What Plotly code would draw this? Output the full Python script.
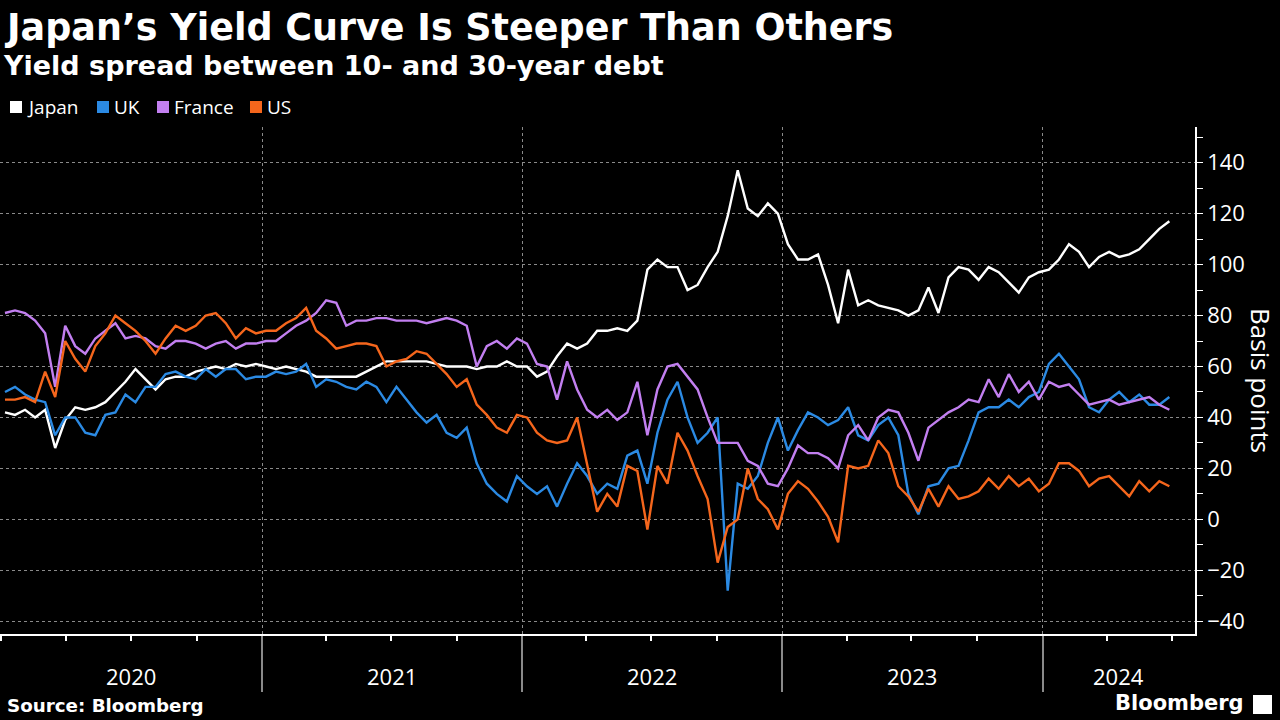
import pandas as pd
import plotly.graph_objects as go

# ---- data (roughly bi-weekly samples) ----
dates = pd.date_range("2020-01-06", "2024-06-27", periods=117)

japan = [42, 41, 43, 40, 43, 28, 39, 44, 43, 44,
         46, 50, 54, 59, 55, 51, 55, 56, 56, 58,
         59, 60, 59, 61, 60, 61, 60, 59, 60, 59,
         58, 56, 56, 56, 56, 56, 58, 60, 62, 62,
         62, 62, 62, 61, 60, 60, 60, 59, 60, 60,
         62, 60, 60, 56, 58, 64, 69, 67, 69, 74,
         74, 75, 74, 78, 98, 102, 99, 99, 90, 92,
         99, 105, 119, 137, 122, 119, 124, 120, 108, 102,
         102, 104, 92, 77, 98, 84, 86, 84, 83, 82,
         80, 82, 91, 81, 95, 99, 98, 94, 99, 97,
         93, 89, 95, 97, 98, 102, 108, 105, 99, 103,
         105, 103, 104, 106, 110, 114, 117]

uk = [50, 52, 49, 47, 46, 33, 40, 40, 34, 33,
      41, 42, 49, 46, 52, 52, 57, 58, 56, 55,
      59, 56, 59, 59, 55, 56, 56, 58, 57, 58,
      61, 52, 55, 54, 52, 51, 54, 52, 46, 52,
      47, 42, 38, 41, 34, 32, 36, 22, 14, 10,
      7, 17, 13, 10, 13, 5, 14, 22, 17, 10,
      14, 12, 25, 27, 14, 34, 47, 54, 40, 30,
      34, 40, -28, 14, 12, 17, 30, 40, 27, 35,
      42, 40, 37, 39, 44, 33, 31, 37, 40, 33,
      10, 2, 13, 14, 20, 21, 31, 42, 44, 44,
      47, 44, 48, 50, 61, 65, 60, 55, 44, 42,
      47, 50, 46, 49, 45, 45, 48]

france = [81, 82, 81, 78, 73, 52, 76, 68, 65, 71,
          74, 77, 71, 72, 71, 68, 67, 70, 70, 69,
          67, 69, 70, 67, 69, 69, 70, 70, 73, 76,
          78, 81, 86, 85, 76, 78, 78, 79, 79, 78,
          78, 78, 77, 78, 79, 78, 76, 60, 68, 70,
          67, 71, 69, 61, 60, 47, 62, 51, 43, 40,
          43, 39, 42, 54, 33, 51, 60, 61, 56, 51,
          40, 30, 30, 30, 23, 21, 14, 13, 20, 29,
          26, 26, 24, 20, 33, 37, 31, 40, 43, 42,
          34, 23, 36, 39, 42, 44, 47, 46, 55, 48,
          57, 50, 54, 47, 54, 52, 53, 49, 45, 46,
          47, 45, 46, 47, 48, 45, 43]

us = [47, 47, 48, 46, 58, 48, 70, 63, 58, 68,
      73, 80, 77, 74, 70, 65, 71, 76, 74, 76,
      80, 81, 77, 71, 75, 73, 74, 74, 77, 79,
      83, 74, 71, 67, 68, 69, 69, 68, 60, 62,
      63, 66, 65, 61, 57, 52, 55, 45, 41, 36,
      34, 41, 40, 34, 31, 30, 31, 40, 21, 3,
      10, 5, 21, 19, -4, 21, 14, 34, 27, 17,
      8, -17, -3, 0, 20, 8, 4, -4, 10, 15,
      12, 7, 1, -9, 21, 20, 21, 31, 26, 13,
      9, 3, 12, 5, 13, 8, 9, 11, 16, 12,
      17, 13, 16, 11, 14, 22, 22, 19, 13, 16,
      17, 13, 9, 15, 11, 15, 13]

series_names = ["Japan", "UK", "France", "US"]
series_values = [japan, uk, france, us]
series_colors = ["#ffffff", "#2b8ae3", "#c27ff0", "#f5661c"]

year_bounds = ["2021-01-01", "2022-01-01", "2023-01-01", "2024-01-01"]
year_label_pos = ["2020-07-01", "2021-07-02", "2022-07-02", "2023-07-02", "2024-04-17"]
year_labels = ["2020", "2021", "2022", "2023", "2024"]

# ---- figure ----
W, H = 1280, 720
ML, MR, MT, MB = 0, 85, 127, 86
PW, PH = W - ML - MR, H - MT - MB


def px(x):
    return (x - ML) / PW


def py(y):
    return (H - MB - y) / PH


fig = go.Figure()
for name, vals, col in zip(series_names, series_values, series_colors):
    fig.add_trace(go.Scatter(x=dates, y=vals, mode="lines", name=name,
                             line=dict(color=col, width=2.4),
                             showlegend=False))

BOLD = "DejaVu Sans"
FONT = "Open Sans"
grid = "#8a8a8a"

annotations = []
shapes = []

# legend (squares + labels)
leg_sq = [10, 97, 157, 250]
for name, col, x0 in zip(series_names, series_colors, leg_sq):
    shapes.append(dict(type="rect", xref="paper", yref="paper",
                       x0=px(x0), x1=px(x0 + 12), y0=py(113), y1=py(101),
                       fillcolor=col, line=dict(width=0)))
    annotations.append(dict(text=name, xref="paper", yref="paper",
                            x=px(x0 + 15), y=py(107), xanchor="left", yanchor="middle",
                            showarrow=False, font=dict(family=FONT, size=19, color="white")))

# year labels
for pos, lab in zip(year_label_pos, year_labels):
    annotations.append(dict(text=lab, xref="x", yref="paper", x=pos, y=py(676),
                            xanchor="center", yanchor="middle", showarrow=False,
                            font=dict(family=FONT, size=22, color="white")))

# y-axis title
annotations.append(dict(text="Basis points", xref="paper", yref="paper",
                        x=px(1261), y=py(380), textangle=90, showarrow=False,
                        xanchor="center", yanchor="middle",
                        font=dict(family=FONT, size=26, color="white")))

# subtitle
annotations.append(dict(text="<b>Yield spread between 10- and 30-year debt</b>",
                        xref="paper", yref="paper", x=px(1), y=py(65),
                        xanchor="left", yanchor="middle", showarrow=False,
                        font=dict(family=BOLD, size=27, color="white")))

# source + brand
annotations.append(dict(text="<b>Source: Bloomberg</b>", xref="paper", yref="paper",
                        x=px(5), y=py(705), xanchor="left", yanchor="middle",
                        showarrow=False, font=dict(family=BOLD, size=18.3, color="white")))
annotations.append(dict(text="<b>Bloomberg</b>", xref="paper", yref="paper",
                        x=px(1246), y=py(703), xanchor="right", yanchor="middle",
                        showarrow=False, font=dict(family=BOLD, size=21, color="white")))
shapes.append(dict(type="rect", xref="paper", yref="paper",
                   x0=px(1253), x1=px(1272), y0=py(714), y1=py(695),
                   fillcolor="white", line=dict(width=0)))

# title
annotations.append(dict(text="<b>Japan’s Yield Curve Is Steeper Than Others</b>",
                        xref="paper", yref="paper", x=px(2), y=py(27),
                        xanchor="left", yanchor="middle", showarrow=False,
                        font=dict(family=BOLD, size=36.5, color="white")))

fig.update_layout(
    width=W, height=H,
    margin=dict(l=ML, r=MR, t=MT, b=MB),
    paper_bgcolor="black", plot_bgcolor="black",
    showlegend=False,
    annotations=annotations,
    shapes=shapes,
    xaxis=dict(type="date", range=["2019-12-30", "2024-08-02"],
               showline=True, linecolor="white", linewidth=1.5,
               tickmode="array", tickvals=year_bounds, showticklabels=False,
               ticks="outside", ticklen=56, tickcolor=grid, tickwidth=1.5,
               showgrid=True, gridcolor=grid, griddash="dot", gridwidth=1,
               zeroline=False,
               minor=dict(ticks="outside", ticklen=5, tickcolor="white",
                          dtick="M3", tick0="2020-01-01", showgrid=False)),
    yaxis=dict(side="right", range=[-45, 154], tick0=0, dtick=20,
               showline=True, linecolor="white", linewidth=1.5,
               ticks="outside", ticklen=6, tickcolor="white",
               tickfont=dict(family=FONT, size=22, color="white"),
               showgrid=True, gridcolor=grid, griddash="dot", gridwidth=1,
               zeroline=False,
               minor=dict(ticks="outside", ticklen=6, tickcolor="white",
                          dtick=10, showgrid=False)),
)

fig.write_html("out.html", config={"displayModeBar": False},
               post_script="document.body.style.margin='0px';document.body.style.overflow='hidden';")
